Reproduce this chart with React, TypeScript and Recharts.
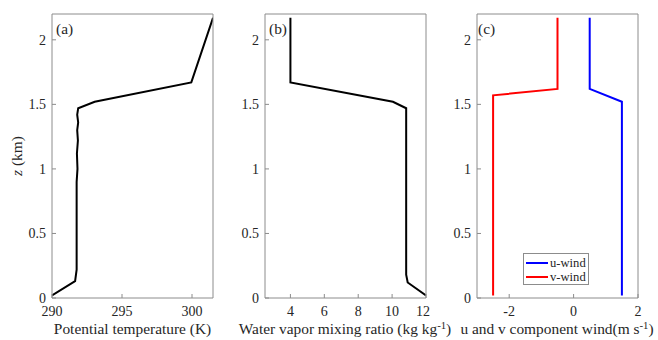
import React from 'react';
import { LineChart, Line, XAxis, YAxis, Legend } from 'recharts';

const zTicks = [0, 0.5, 1, 1.5, 2];

// (a) potential temperature profile
const thetaK = [290, 291.65, 291.76, 291.76, 291.82, 291.78, 291.85, 291.8, 291.87, 291.8, 291.87, 293.05, 299.95, 301.5];
const thetaZ = [0.02, 0.13, 0.22, 0.9, 1.0, 1.12, 1.22, 1.3, 1.36, 1.42, 1.47, 1.52, 1.67, 2.17];
const thetaTicks = [290, 295, 300];

// (b) water vapor mixing ratio
const qvVal = [12, 10.92, 10.83, 10.83, 10.05, 4, 4];
const qvZ = [0.02, 0.12, 0.18, 1.47, 1.52, 1.67, 2.17];
const qvTicks = [4, 6, 8, 10, 12];

// (c) wind components
const uVal = [1.5, 1.5, 0.5, 0.5];
const uZ = [0.02, 1.52, 1.62, 2.17];
const vVal = [-2.5, -2.5, -0.5, -0.5];
const vZ = [0.02, 1.57, 1.62, 2.17];
const windTicks = [-2, 0, 2];

const AXIS = '#8c8c8c';
const INK = '#262626';
const FONT = '"Liberation Serif", "Times New Roman", serif';

const toPoints = (xs: number[], zs: number[]) => xs.map((x, i) => ({ x, z: zs[i] }));

type Series = { name: string; color: string; data: { x: number; z: number }[] };

const WindLegend = ({ payload }: any) => (
  <div
    style={{
      boxSizing: 'border-box',
      width: 66,
      height: 32,
      border: `1px solid ${AXIS}`,
      background: '#fff',
      fontFamily: FONT,
      fontSize: 12.6,
      color: INK,
      paddingTop: 2,
    }}
  >
    {(payload || []).map((p: any) => (
      <div key={p.value} style={{ display: 'flex', alignItems: 'center', height: 14, lineHeight: '14px' }}>
        <span style={{ display: 'inline-block', width: 22, marginLeft: 2, marginRight: 2, borderTop: `2px solid ${p.color}` }} />
        {p.value}
      </div>
    ))}
  </div>
);

function Panel({
  left,
  yw,
  xDomain,
  xTicks,
  series,
  legend,
}: {
  left: number;
  yw: number;
  xDomain: [number, number];
  xTicks: number[];
  series: Series[];
  legend?: boolean;
}) {
  const width = yw + 161 + 4;
  return (
    <div style={{ position: 'absolute', left, top: 0 }}>
      <LineChart width={width} height={340} margin={{ top: 0, right: 0, bottom: 0, left: 0 }}>
        <XAxis
          xAxisId="bottom"
          type="number"
          dataKey="x"
          domain={xDomain}
          ticks={xTicks}
          allowDataOverflow
          height={42}
          stroke={AXIS}
          tickSize={-4}
          tickMargin={12}
          tick={{ fill: INK, fontSize: 14, fontFamily: FONT }}
        />
        <XAxis
          xAxisId="top"
          orientation="top"
          type="number"
          dataKey="x"
          domain={xDomain}
          ticks={xTicks}
          allowDataOverflow
          height={14}
          stroke={AXIS}
          tickSize={-4}
          tick={false}
        />
        <YAxis
          yAxisId="left"
          type="number"
          dataKey="z"
          domain={[0, 2.2]}
          ticks={zTicks}
          allowDataOverflow
          width={yw}
          stroke={AXIS}
          tickSize={-4}
          tickMargin={10}
          tick={{ fill: INK, fontSize: 14, fontFamily: FONT }}
        />
        <YAxis
          yAxisId="right"
          orientation="right"
          type="number"
          dataKey="z"
          domain={[0, 2.2]}
          ticks={zTicks}
          allowDataOverflow
          width={4}
          stroke={AXIS}
          tickSize={-4}
          tick={false}
        />
        {series.map((s) => (
          <Line
            key={s.name}
            name={s.name}
            xAxisId="bottom"
            yAxisId="left"
            data={s.data}
            dataKey="z"
            stroke={s.color}
            strokeWidth={2}
            dot={false}
            activeDot={false}
            legendType={legend ? 'line' : 'none'}
            isAnimationActive={false}
          />
        ))}
        {legend && (
          <Legend
            layout="horizontal"
            verticalAlign="middle"
            align="center"
            wrapperStyle={{ left: 86, top: 253, width: 66, height: 32 }}
            content={<WindLegend />}
          />
        )}
      </LineChart>
    </div>
  );
}

const textBase: React.CSSProperties = {
  position: 'absolute',
  fontFamily: FONT,
  color: INK,
  whiteSpace: 'nowrap',
  lineHeight: 1,
};

const sup: React.CSSProperties = { fontSize: '0.7em', position: 'relative', top: '-0.5em', verticalAlign: 'baseline' };

export default function App() {
  return (
    <div style={{ position: 'absolute', left: 0, top: 0, width: 658, height: 340, background: '#fff', overflow: 'hidden' }}>
      <Panel
        left={0}
        yw={52}
        xDomain={[290, 301.5]}
        xTicks={thetaTicks}
        series={[{ name: 'theta', color: '#000', data: toPoints(thetaK, thetaZ) }]}
      />
      <Panel
        left={225}
        yw={40}
        xDomain={[2.5, 12]}
        xTicks={qvTicks}
        series={[{ name: 'qv', color: '#000', data: toPoints(qvVal, qvZ) }]}
      />
      <Panel
        left={437}
        yw={40}
        xDomain={[-3, 2]}
        xTicks={windTicks}
        series={[
          { name: 'u-wind', color: '#0000ff', data: toPoints(uVal, uZ) },
          { name: 'v-wind', color: '#ff0000', data: toPoints(vVal, vZ) },
        ]}
        legend
      />

      <div style={{ ...textBase, fontSize: 15.4, left: 56, top: 21 }}>(a)</div>
      <div style={{ ...textBase, fontSize: 15.4, left: 269, top: 21 }}>(b)</div>
      <div style={{ ...textBase, fontSize: 15.4, left: 478, top: 21 }}>(c)</div>

      <div
        style={{
          ...textBase,
          fontSize: 15.4,
          left: 17,
          top: 156,
          transform: 'translate(-50%, -50%) rotate(-90deg)',
        }}
      >
        <i>z</i> (km)
      </div>

      <div style={{ ...textBase, fontSize: 15.4, left: 132.5, top: 321, transform: 'translateX(-50%)' }}>
        Potential temperature (K)
      </div>
      <div style={{ ...textBase, fontSize: 15.4, left: 345, top: 321, transform: 'translateX(-50%)' }}>
        Water vapor mixing ratio (kg kg<span style={sup}>-1</span>)
      </div>
      <div style={{ ...textBase, fontSize: 15.4, left: 557, top: 321, transform: 'translateX(-50%)' }}>
        u and v component wind(m s<span style={sup}>-1</span>)
      </div>
    </div>
  );
}
